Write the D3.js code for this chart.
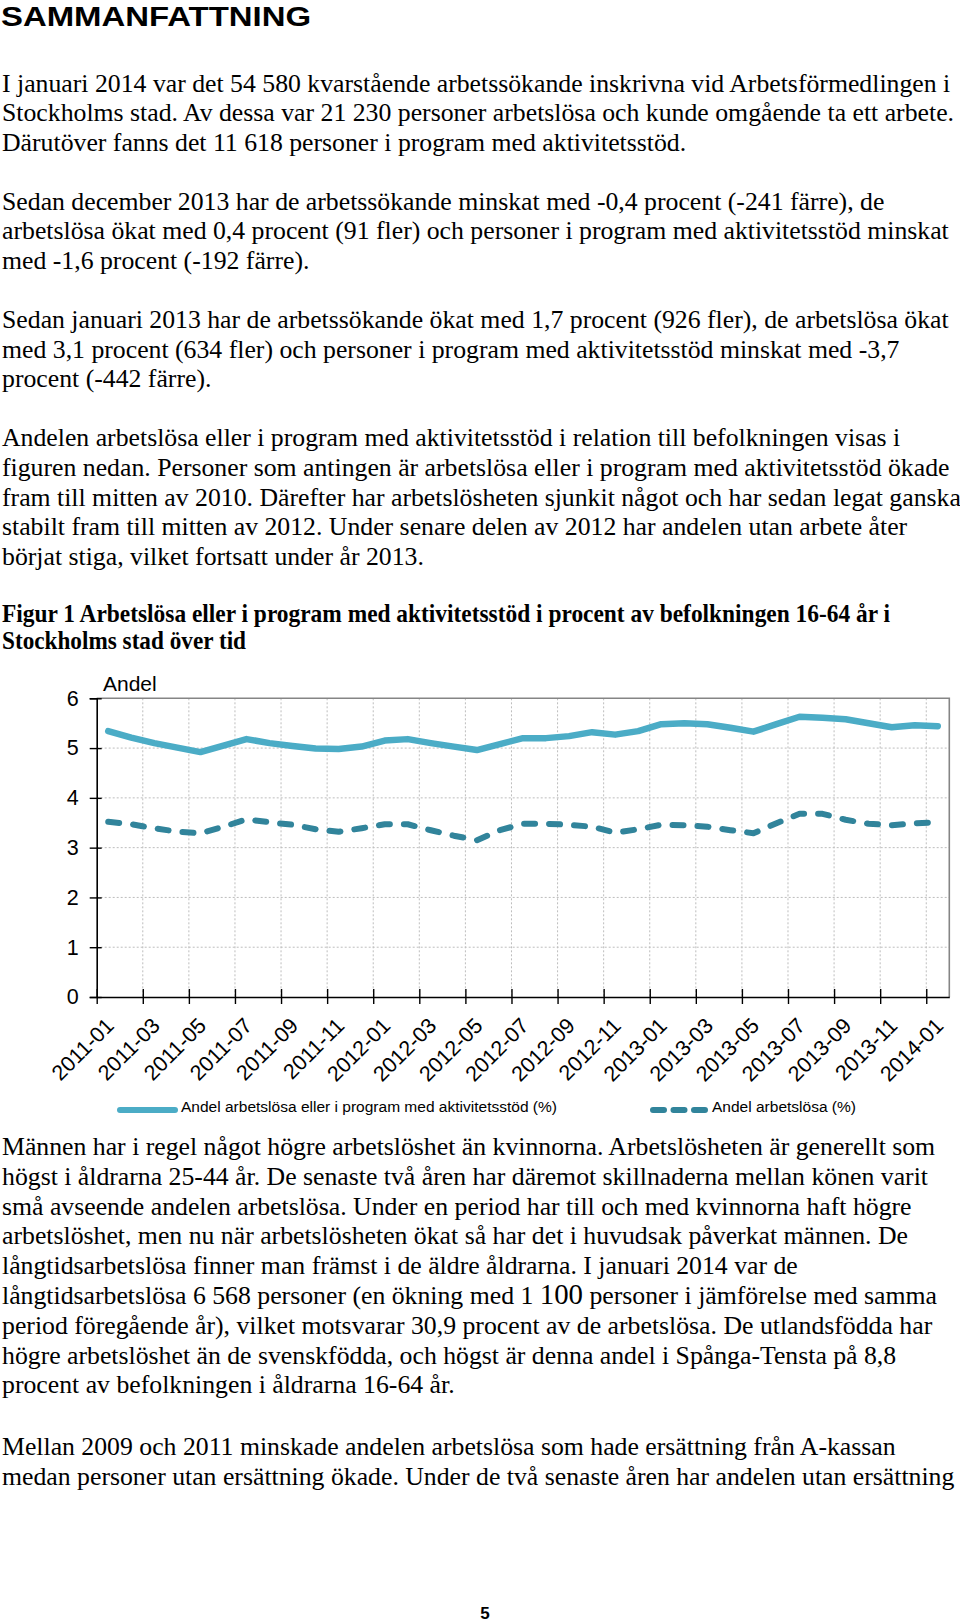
<!DOCTYPE html>
<html>
<head>
<meta charset="utf-8">
<script src="https://cdn.jsdelivr.net/npm/d3@7"></script>
<style>
  html, body { margin: 0; padding: 0; background: #fff; }
  svg { display: block; }
</style>
</head>
<body>
<svg id="page" width="960" height="1624"></svg>
<script>
// ---------- DATA ----------
const months = [
  "2011-01","2011-02","2011-03","2011-04","2011-05","2011-06","2011-07","2011-08","2011-09","2011-10","2011-11","2011-12",
  "2012-01","2012-02","2012-03","2012-04","2012-05","2012-06","2012-07","2012-08","2012-09","2012-10","2012-11","2012-12",
  "2013-01","2013-02","2013-03","2013-04","2013-05","2013-06","2013-07","2013-08","2013-09","2013-10","2013-11","2013-12",
  "2014-01"
];
// Andel arbetslösa eller i program med aktivitetsstöd (%)
const andelTotal = [
  5.34, 5.21, 5.10, 5.01, 4.92, 5.05, 5.18, 5.10, 5.04, 4.99, 4.98, 5.03,
  5.15, 5.18, 5.10, 5.03, 4.96, 5.08, 5.20, 5.20, 5.24, 5.32, 5.27, 5.34,
  5.48, 5.50, 5.48, 5.41, 5.33, 5.48, 5.63, 5.61, 5.58, 5.50, 5.42, 5.46,
  5.44
];
// Andel arbetslösa (%)
const andelArbetslosa = [
  3.52, 3.47, 3.39, 3.32, 3.29, 3.42, 3.57, 3.51, 3.46, 3.37, 3.32, 3.39,
  3.47, 3.47, 3.35, 3.24, 3.15, 3.35, 3.48, 3.48, 3.46, 3.42, 3.30, 3.37,
  3.46, 3.45, 3.42, 3.35, 3.29, 3.49, 3.68, 3.68, 3.56, 3.48, 3.45, 3.49,
  3.51
];
const yTicks = [0, 1, 2, 3, 4, 5, 6];
const xLabelMonths = months.filter((m, i) => i % 2 === 0);
const seriesNames = ["Andel arbetslösa eller i program med aktivitetsstöd (%)", "Andel arbetslösa (%)"];
const yAxisTitle = "Andel";

const heading = "SAMMANFATTNING";
const textTop = [
  "I januari 2014 var det 54 580 kvarstående arbetssökande inskrivna vid Arbetsförmedlingen i",
  "Stockholms stad. Av dessa var 21 230 personer arbetslösa och kunde omgående ta ett arbete.",
  "Därutöver fanns det 11 618 personer i program med aktivitetsstöd.",
  null,
  "Sedan december 2013 har de arbetssökande minskat med -0,4 procent (-241 färre), de",
  "arbetslösa ökat med 0,4 procent (91 fler) och personer i program med aktivitetsstöd minskat",
  "med -1,6 procent (-192 färre).",
  null,
  "Sedan januari 2013 har de arbetssökande ökat med 1,7 procent (926 fler), de arbetslösa ökat",
  "med 3,1 procent (634 fler) och personer i program med aktivitetsstöd minskat med -3,7",
  "procent (-442 färre).",
  null,
  "Andelen arbetslösa eller i program med aktivitetsstöd i relation till befolkningen visas i",
  "figuren nedan. Personer som antingen är arbetslösa eller i program med aktivitetsstöd ökade",
  "fram till mitten av 2010. Därefter har arbetslösheten sjunkit något och har sedan legat ganska",
  "stabilt fram till mitten av 2012. Under senare delen av 2012 har andelen utan arbete åter",
  "börjat stiga, vilket fortsatt under år 2013."
];
const caption = [
  "Figur 1 Arbetslösa eller i program med aktivitetsstöd i procent av befolkningen 16-64 år i",
  "Stockholms stad över tid"
];
const textBottom = [
  "Männen har i regel något högre arbetslöshet än kvinnorna. Arbetslösheten är generellt som",
  "högst i åldrarna 25-44 år. De senaste två åren har däremot skillnaderna mellan könen varit",
  "små avseende andelen arbetslösa. Under en period har till och med kvinnorna haft högre",
  "arbetslöshet, men nu när arbetslösheten ökat så har det i huvudsak påverkat männen. De",
  "långtidsarbetslösa finner man främst i de äldre åldrarna. I januari 2014 var de",
  ["långtidsarbetslösa 6 568 personer (en ökning med 1 ", "100", " personer i jämförelse med samma"],
  "period föregående år), vilket motsvarar 30,9 procent av de arbetslösa. De utlandsfödda har",
  "högre arbetslöshet än de svenskfödda, och högst är denna andel i Spånga-Tensta på 8,8",
  "procent av befolkningen i åldrarna 16-64 år."
];
const textLast = [
  "Mellan 2009 och 2011 minskade andelen arbetslösa som hade ersättning från A-kassan",
  "medan personer utan ersättning ökade. Under de två senaste åren har andelen utan ersättning"
];
const pageNumber = "5";

// ---------- DRAW ----------
const svg = d3.select("#page");
svg.append("rect").attr("width", 960).attr("height", 1624).attr("fill", "#fff");

const serif = "'Liberation Serif', 'Times New Roman', serif";
const sans = "'Liberation Sans', Arial, sans-serif";
const bodySize = 25.75;

svg.append("text").attr("x", 1).attr("y", 26)
  .attr("font-family", sans).attr("font-weight", "bold").attr("font-size", 28.5)
  .attr("textLength", 310).attr("lengthAdjust", "spacingAndGlyphs")
  .text(heading);

function drawLines(lines, y0, step, cls) {
  const g = svg.append("g").attr("class", cls)
    .attr("font-family", serif).attr("font-size", bodySize).attr("fill", "#000");
  lines.forEach((ln, i) => {
    if (ln === null) return;
    const t = g.append("text").attr("x", 2).attr("y", y0 + i * step);
    if (Array.isArray(ln)) {
      t.append("tspan").text(ln[0]);
      t.append("tspan").attr("font-size", bodySize * 1.12).text(ln[1]);
      t.append("tspan").text(ln[2]);
    } else {
      t.text(ln);
    }
  });
}
drawLines(textTop, 91.5, 29.58, "top");

const capG = svg.append("g").attr("font-family", serif).attr("font-weight", "bold")
  .attr("font-size", 24.5);
capG.append("text").attr("x", 2).attr("y", 622).attr("textLength", 888)
  .attr("lengthAdjust", "spacingAndGlyphs").text(caption[0]);
capG.append("text").attr("x", 2).attr("y", 649).attr("textLength", 244)
  .attr("lengthAdjust", "spacingAndGlyphs").text(caption[1]);

drawLines(textBottom, 1155, 29.8, "bottom");
drawLines(textLast, 1455, 29.6, "last");

svg.append("text").attr("x", 485).attr("y", 1619).attr("text-anchor", "middle")
  .attr("font-family", sans).attr("font-weight", "bold").attr("font-size", 17).text(pageNumber);

// ---------- CHART ----------
const plot = { left: 96.7, right: 949.3, top: 698.3, bottom: 997 };
const x = d3.scaleBand().domain(months).range([plot.left, plot.right]).padding(0);
const xb = d3.scaleLinear().domain([0, months.length]).range([plot.left, plot.right]);
const y = d3.scaleLinear().domain([0, 6]).range([plot.bottom, plot.top]);
const chart = svg.append("g").attr("font-family", sans);

// grid
const gridColor = "#bdbdbd";
chart.append("g").selectAll("line").data(yTicks.filter(v => v > 0 && v < 6)).join("line")
  .attr("x1", plot.left).attr("x2", plot.right)
  .attr("y1", d => y(d)).attr("y2", d => y(d))
  .attr("stroke", gridColor).attr("stroke-width", 1).attr("stroke-dasharray", "2,2");
const vIdx = d3.range(2, months.length, 2);
chart.append("g").selectAll("line").data(vIdx).join("line")
  .attr("x1", d => xb(d)).attr("x2", d => xb(d))
  .attr("y1", plot.top).attr("y2", plot.bottom)
  .attr("stroke", gridColor).attr("stroke-width", 1).attr("stroke-dasharray", "2,2");

// frame top/right
chart.append("path")
  .attr("d", `M${plot.left},${plot.top}H${plot.right}V${plot.bottom}`)
  .attr("fill", "none").attr("stroke", "#858585").attr("stroke-width", 1.6);

// y axis
const yAxis = chart.append("g").attr("transform", `translate(${plot.left},0)`)
  .call(d3.axisLeft(y).tickValues(yTicks).tickFormat(d3.format("d")).tickSize(7).tickPadding(11));
yAxis.select(".domain").attr("stroke", "#000").attr("stroke-width", 1.6);
yAxis.selectAll(".tick line").attr("x1", 5).attr("stroke", "#000").attr("stroke-width", 1.4);
yAxis.selectAll(".tick text").attr("font-size", 21.5).attr("fill", "#000").attr("font-family", sans);

// x axis ticks (category boundaries)
const xAxisTicks = chart.append("g").attr("transform", `translate(0,${plot.bottom})`)
  .call(d3.axisBottom(xb).tickValues(d3.range(0, months.length, 2)).tickFormat("").tickSize(7).tickSizeOuter(0));
xAxisTicks.select(".domain").attr("stroke", "#000").attr("stroke-width", 1.6);
xAxisTicks.selectAll(".tick line").attr("y1", -8).attr("stroke", "#000").attr("stroke-width", 1.4);

// x labels (category centers)
const xLab = chart.append("g").attr("transform", `translate(0,${plot.bottom})`)
  .call(d3.axisBottom(x).tickValues(xLabelMonths).tickSize(0));
xLab.select(".domain").remove();
xLab.selectAll(".tick text")
  .attr("font-size", 21.5).attr("font-family", sans).attr("fill", "#000")
  .attr("text-anchor", "end").attr("x", 0).attr("y", 0).attr("dy", 0)
  .attr("transform", "translate(7,30) rotate(-45)");

// axis title
chart.append("text").attr("x", 103).attr("y", 691).attr("font-size", 21).attr("fill", "#000")
  .text(yAxisTitle);

// lines
const cx = (d, i) => x(months[i]) + x.bandwidth() / 2;
const line = d3.line().x(cx).y(d => y(d));
chart.append("path").datum(andelTotal).attr("d", line)
  .attr("fill", "none").attr("stroke", "#4bacc6").attr("stroke-width", 6.5)
  .attr("stroke-linejoin", "round").attr("stroke-linecap", "round");
chart.append("path").datum(andelArbetslosa).attr("d", line)
  .attr("fill", "none").attr("stroke", "#31849b").attr("stroke-width", 6)
  .attr("stroke-linejoin", "round").attr("stroke-linecap", "round")
  .attr("stroke-dasharray", "11,14");

// legend
const leg = chart.append("g");
leg.append("line").attr("x1", 120).attr("x2", 175).attr("y1", 1110).attr("y2", 1110)
  .attr("stroke", "#4bacc6").attr("stroke-width", 6).attr("stroke-linecap", "round");
leg.append("text").attr("x", 181).attr("y", 1112).attr("font-size", 15.5).attr("fill", "#000")
  .attr("textLength", 376).attr("lengthAdjust", "spacingAndGlyphs").text(seriesNames[0]);
leg.append("line").attr("x1", 653).attr("x2", 705).attr("y1", 1110).attr("y2", 1110)
  .attr("stroke", "#31849b").attr("stroke-width", 6).attr("stroke-linecap", "round")
  .attr("stroke-dasharray", "11,9.5");
leg.append("text").attr("x", 712).attr("y", 1112).attr("font-size", 15.5).attr("fill", "#000")
  .attr("textLength", 144).attr("lengthAdjust", "spacingAndGlyphs").text(seriesNames[1]);
</script>
</body>
</html>
